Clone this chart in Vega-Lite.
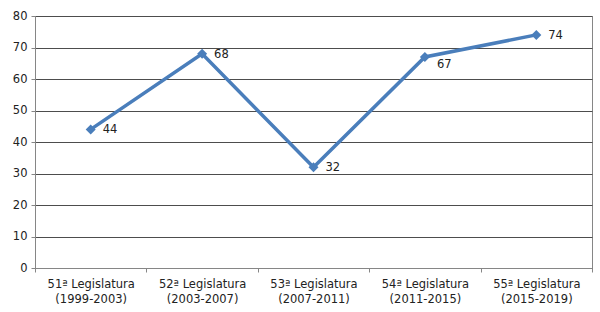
{
  "$schema": "https://vega.github.io/schema/vega-lite/v6.json",
  "width": 557,
  "height": 252,
  "autosize": {"type": "none"},
  "padding": {"left": 35, "top": 16, "right": 8, "bottom": 44},
  "background": "white",
  "config": {
    "font": "DejaVu Sans",
    "view": {"stroke": "#868686", "strokeWidth": 1},
    "axis": {"labelFont": "DejaVu Sans", "labelFontSize": 11.5, "labelColor": "#222", "domainColor": "#868686", "tickColor": "#868686", "titleFontSize": 11}
  },
  "data": {
    "values": [
      {"leg": "51ª Legislatura\n(1999-2003)", "v": 44},
      {"leg": "52ª Legislatura\n(2003-2007)", "v": 68},
      {"leg": "53ª Legislatura\n(2007-2011)", "v": 32},
      {"leg": "54ª Legislatura\n(2011-2015)", "v": 67},
      {"leg": "55ª Legislatura\n(2015-2019)", "v": 74}
    ]
  },
  "encoding": {
    "x": {
      "field": "leg", "type": "nominal", "sort": null,
      "scale": {"type": "band", "paddingInner": 0, "paddingOuter": 0},
      "axis": {"title": null, "labelAngle": 0, "labelExpr": "isValid(datum.value) ? split(datum.value, '\\n') : ''", "tickBand": "extent", "tickSize": 4, "labelPadding": 6, "labelLineHeight": 15, "grid": false, "domain": true}
    },
    "y": {
      "field": "v", "type": "quantitative",
      "scale": {"domain": [0, 80]},
      "axis": {"title": null, "values": [0,10,20,30,40,50,60,70,80], "grid": true, "gridColor": "#4d4d4d", "gridWidth": 1, "tickSize": 4, "labelPadding": 4}
    }
  },
  "layer": [
    {"mark": {"type": "line", "color": "#4A7EBB", "strokeWidth": 3.5}},
    {"mark": {"type": "point", "shape": "diamond", "filled": true, "color": "#4A7EBB", "size": 100, "opacity": 1}},
    {"transform": [{"filter": "datum.v !== 67"}],
     "mark": {"type": "text", "align": "left", "baseline": "middle", "dx": 12, "dy": 1, "fontSize": 11.5, "color": "#222"},
     "encoding": {"text": {"field": "v", "type": "quantitative"}}},
    {"transform": [{"filter": "datum.v === 67"}],
     "mark": {"type": "text", "align": "left", "baseline": "middle", "dx": 12, "dy": 8, "fontSize": 11.5, "color": "#222"},
     "encoding": {"text": {"field": "v", "type": "quantitative"}}}
  ]
}
